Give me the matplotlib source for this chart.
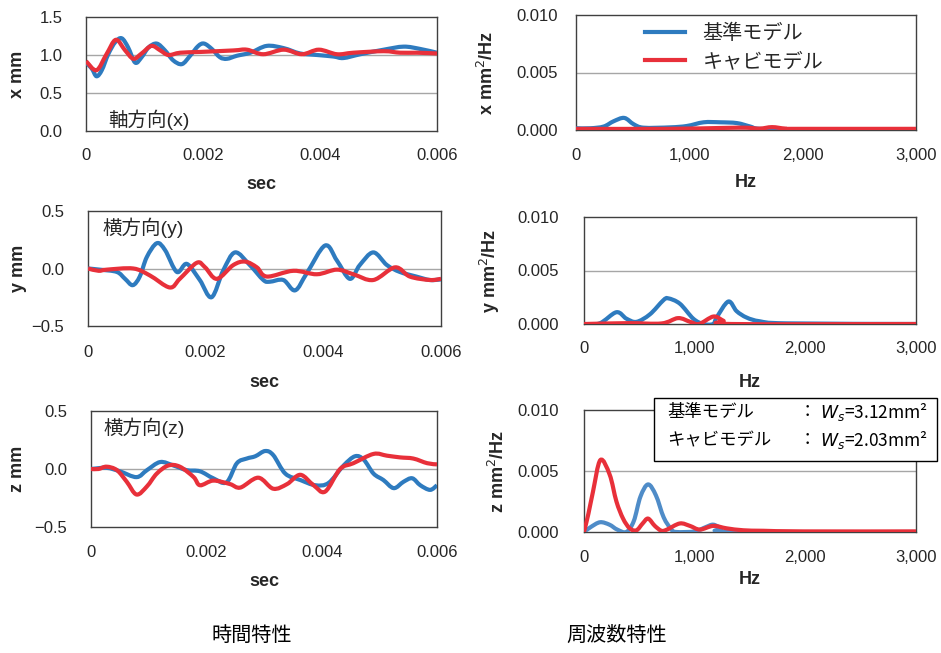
import matplotlib
matplotlib.use("Agg")
import matplotlib.pyplot as plt
from matplotlib.patches import Rectangle, PathPatch
from matplotlib.path import Path
from matplotlib.lines import Line2D

plt.rcParams['font.family'] = ['Liberation Sans', 'Noto Sans CJK JP', 'DejaVu Sans']
plt.rcParams['axes.unicode_minus'] = True

# ---------------- data ----------------
series_labels = ['基準モデル', 'キャビモデル']
dir_labels = ['軸方向(x)', '横方向(y)', '横方向(z)']
time_ylabels = ['x mm', 'y mm', 'z mm']
psd_ylabels = ['x mm$^2$/Hz', 'y mm$^2$/Hz', 'z mm$^2$/Hz']
time_xlabel = 'sec'
psd_xlabel = 'Hz'
time_xticks = [0, 0.002, 0.004, 0.006]
time_xticklabels = ['0', '0.002', '0.004', '0.006']
x_yticks = [0.0, 0.5, 1.0, 1.5]
x_yticklabels = ['0.0', '0.5', '1.0', '1.5']
yz_yticks = [-0.5, 0.0, 0.5]
yz_yticklabels = ['\u22120.5', '0.0', '0.5']
psd_xticks = [0, 1000, 2000, 3000]
psd_xticklabels = ['0', '1,000', '2,000', '3,000']
psd_yticks = [0.0, 0.005, 0.010]
psd_yticklabels = ['0.000', '0.005', '0.010']
bottom_labels = ['時間特性', '周波数特性']
note_names = ['基準モデル', 'キャビモデル']
note_values = ['$W_s$=3.12mm\u00b2', '$W_s$=2.03mm\u00b2']

# time response x (axial)
tx_base = [0.0, 0.0001, 0.00018, 0.00027, 0.00038, 0.0005, 0.00061, 0.00072, 0.00084,
           0.00095, 0.00107, 0.00121, 0.00135, 0.00149, 0.00164, 0.00178, 0.00192,
           0.00202, 0.00215, 0.00229, 0.00241, 0.00258, 0.00281, 0.00309, 0.00338,
           0.00366, 0.00395, 0.00423, 0.0044, 0.00469, 0.00509, 0.00543, 0.00571, 0.006]
x_base = [0.90, 0.82, 0.72, 0.80, 1.01, 1.17, 1.22, 1.10, 0.90, 0.97, 1.10, 1.15, 1.06,
          0.93, 0.88, 0.99, 1.12, 1.15, 1.08, 0.97, 0.95, 0.99, 1.03, 1.12, 1.09, 1.02,
          1.00, 0.98, 0.96, 1.01, 1.07, 1.11, 1.08, 1.03]
tx_cav = [0.0, 0.00018, 0.00035, 0.00051, 0.00067, 0.00081, 0.00095, 0.00112, 0.00127,
          0.00141, 0.00161, 0.00195, 0.00252, 0.00275, 0.00303, 0.00338, 0.00369,
          0.00398, 0.00429, 0.00457, 0.00509, 0.00537, 0.00566, 0.006]
x_cav = [0.92, 0.80, 1.01, 1.20, 1.06, 0.95, 1.02, 1.12, 1.06, 1.00, 1.03, 1.04, 1.06,
         1.07, 1.01, 1.07, 1.01, 1.07, 1.01, 1.03, 1.05, 1.03, 1.03, 1.02]

# time response y
ty_base = [0.0, 0.0002, 0.00049, 0.00063, 0.00076, 0.00088, 0.001, 0.00117, 0.00131,
           0.00151, 0.00168, 0.0019, 0.0021, 0.0023, 0.0025, 0.00275, 0.00298, 0.00309,
           0.00332, 0.00352, 0.00372, 0.00403, 0.00423, 0.00445, 0.00462, 0.00485,
           0.00508, 0.0053, 0.00558, 0.00581, 0.006]
y_base = [0.0, -0.01, -0.03, -0.09, -0.145, -0.07, 0.10, 0.22, 0.16, -0.03, 0.04, -0.10,
          -0.25, -0.015, 0.14, 0.03, -0.10, -0.115, -0.10, -0.19, -0.04, 0.20, 0.07, -0.09,
          0.03, 0.14, 0.03, -0.03, -0.07, -0.10, -0.095]
ty_cav = [0.0, 0.00018, 0.00032, 0.00077, 0.00105, 0.00139, 0.00156, 0.00185, 0.00199,
          0.00219, 0.00247, 0.00267, 0.00287, 0.00304, 0.00349, 0.00389, 0.00423,
          0.00451, 0.00485, 0.00522, 0.00547, 0.00581, 0.006]
y_cav = [0.0, -0.02, -0.01, 0.0, -0.06, -0.165, -0.09, 0.05, 0.01, -0.09, 0.03, 0.06,
         0.01, -0.07, -0.02, -0.05, -0.01, -0.05, -0.10, 0.01, -0.07, -0.10, -0.09]

# time response z
tz_base = [0.0, 0.00027, 0.0005, 0.00079, 0.00097, 0.0012, 0.00143, 0.00166, 0.00189,
           0.00212, 0.00235, 0.00253, 0.0027, 0.00285, 0.00302, 0.00316, 0.00337,
           0.00363, 0.00389, 0.00412, 0.00438, 0.00458, 0.00473, 0.0049, 0.00507,
           0.00525, 0.00542, 0.00557, 0.00571, 0.00588, 0.006]
z_base = [0.0, 0.01, -0.02, -0.07, -0.01, 0.06, 0.03, -0.01, -0.02, -0.08, -0.115, 0.05,
          0.09, 0.11, 0.155, 0.12, -0.04, -0.095, -0.14, -0.12, 0.03, 0.11, 0.08, -0.04,
          -0.095, -0.165, -0.11, -0.08, -0.14, -0.18, -0.14]
tz_cav = [0.0, 0.00013, 0.00027, 0.00045, 0.00062, 0.00079, 0.00097, 0.00114, 0.00134,
          0.00154, 0.00178, 0.00189, 0.00212, 0.00241, 0.00259, 0.0029, 0.00316,
          0.0034, 0.00363, 0.00386, 0.00406, 0.00432, 0.00455, 0.0049, 0.00513,
          0.00536, 0.00559, 0.00583, 0.006]
z_cav = [0.0, 0.0, 0.02, -0.01, -0.11, -0.22, -0.15, -0.04, 0.03, 0.02, -0.07, -0.14,
         -0.10, -0.13, -0.16, -0.075, -0.17, -0.13, -0.05, -0.14, -0.195, 0.0, 0.05,
         0.13, 0.115, 0.10, 0.09, 0.05, 0.04]

# PSD x
fx_base = [0, 126, 244, 332, 426, 509, 597, 832, 979, 1126, 1273, 1420, 1538, 1626, 2009, 3000]
px_base = [0.00015, 0.00015, 0.0003, 0.00076, 0.00105, 0.0005, 0.0002, 0.00023, 0.00035,
           0.00067, 0.00067, 0.0006, 0.0003, 0.0001, 0.00006, 0.00006]
fx_cav = [0, 800, 1300, 1500, 1620, 1730, 1850, 2000, 3000]
px_cav = [0.0001, 0.0001, 0.00018, 0.0002, 0.00012, 0.00025, 0.00012, 0.0001, 0.0001]

# PSD y
fy_base = [0, 142, 293, 383, 474, 595, 715, 760, 866, 987, 1077, 1168, 1198, 1304, 1379,
           1470, 1590, 1832, 3000]
py_base = [0.0, 0.00006, 0.0011, 0.0005, 0.0002, 0.0009, 0.0022, 0.0024, 0.0019, 0.0005,
           0.0, 0.0, 0.0006, 0.0021, 0.0012, 0.0006, 0.00025, 0.00006, 0.0]
fy_cav = [0, 400, 700, 850, 960, 1040, 1170, 1260, 1330, 3000]
py_cav = [0.0, 0.00008, 0.00005, 0.00055, 0.0002, 0.0, 0.0007, 0.0003, 0.0, 0.0]

# PSD z
fz_base = [0, 60, 145, 230, 300, 383, 450, 510, 579, 650, 720, 790, 836, 1000, 1100,
           1168, 1240, 1330, 3000]
pz_base = [0.0, 0.0004, 0.0008, 0.0006, 0.0002, 0.0, 0.0009, 0.0029, 0.0039, 0.003,
           0.0012, 0.0002, 0.0, 0.00005, 0.0004, 0.0006, 0.0003, 0.0, 0.0]
fz_cav = [0, 40, 81, 148, 232, 293, 353, 413, 474, 530, 579, 640, 700, 750, 866, 957,
          1047, 1168, 1289, 1440, 1621, 1983, 3000]
pz_cav = [0.0, 0.0015, 0.0033, 0.0059, 0.0047, 0.0025, 0.0011, 0.0003, 0.00014, 0.0007,
          0.0011, 0.0005, 0.0001, 0.0002, 0.0007, 0.0005, 0.0002, 0.0005, 0.0003, 0.00014,
          0.0001, 0.00005, 0.00005]

# ---------------- style ----------------
BLUE = '#2e7bbf'
BLUE_L = '#4f8cc8'
RED = '#e8303a'
GRID = '#a6a6a6'
SPINE = '#404040'
TXT = '#262626'
W, H = 941, 653
LW = 3.0

fig = plt.figure(figsize=(W / 100, H / 100), dpi=100)


def px_axes(l, r, t, b):
    return fig.add_axes([l / W, 1 - b / H, (r - l) / W, (b - t) / H])


def style(ax, xticks, xtl, yticks, ytl, xlim, ylim, grid_vals, ypad, xpad):
    ax.set_xlim(*xlim)
    ax.set_ylim(*ylim)
    ax.set_xticks(xticks)
    ax.set_xticklabels(xtl)
    ax.set_yticks(yticks)
    ax.set_yticklabels(ytl)
    ax.tick_params(axis='y', length=0, pad=ypad, labelsize=12, labelcolor=TXT)
    ax.tick_params(axis='x', length=0, pad=xpad, labelsize=12, labelcolor=TXT)
    for s in ax.spines.values():
        s.set_color(SPINE)
        s.set_linewidth(1.0)
    for g in grid_vals:
        ax.axhline(g, color=GRID, lw=1.0, zorder=1)


def labels(ax, xl, yl, xly, ylx):
    ax.set_xlabel(xl, fontsize=13, fontweight='bold', color=TXT)
    ax.set_ylabel(yl, fontsize=13, fontweight='bold', color=TXT)
    ax.xaxis.set_label_coords(0.5, xly)
    ax.yaxis.set_label_coords(ylx, 0.5)
    ax.xaxis.label.set_va('center')
    ax.yaxis.label.set_va('center')


def smooth_line(ax, xs, ys, color, z):
    """Excel-style smoothed line: cubic Bezier segments through the data points."""
    n = len(xs)
    verts = [(xs[0], ys[0])]
    codes = [Path.MOVETO]
    for i in range(n - 1):
        a = i - 1 if i > 0 else i
        d = i + 2 if i + 2 < n else i + 1
        c1 = (xs[i] + (xs[i + 1] - xs[a]) / 6.0, ys[i] + (ys[i + 1] - ys[a]) / 6.0)
        c2 = (xs[i + 1] - (xs[d] - xs[i]) / 6.0, ys[i + 1] - (ys[d] - ys[i]) / 6.0)
        verts += [c1, c2, (xs[i + 1], ys[i + 1])]
        codes += [Path.CURVE4] * 3
    patch = PathPatch(Path(verts, codes), fill=False, edgecolor=color, lw=LW,
                      joinstyle='round', capstyle='butt', zorder=z,
                      transform=ax.transData)
    ax.add_patch(patch)
    return patch


# time plots
ax1 = px_axes(86, 437, 17, 131)
ax2 = px_axes(88, 441, 211, 326)
ax3 = px_axes(91, 437, 411, 527)
# PSD plots
ax4 = px_axes(576, 916, 15, 130)
ax5 = px_axes(584, 916, 217, 324)
ax6 = px_axes(584, 916, 410, 532)

style(ax1, time_xticks, time_xticklabels, x_yticks, x_yticklabels, (0, 0.006), (0, 1.5),
      [0.5, 1.0], 17, 12)
style(ax2, time_xticks, time_xticklabels, yz_yticks, yz_yticklabels, (0, 0.006), (-0.5, 0.5),
      [0.0], 17, 14)
style(ax3, time_xticks, time_xticklabels, yz_yticks, yz_yticklabels, (0, 0.006), (-0.5, 0.5),
      [0.0], 17, 13)
for ax, yp, xp in [(ax4, 13, 13), (ax5, 18, 12), (ax6, 18, 13)]:
    style(ax, psd_xticks, psd_xticklabels, psd_yticks, psd_yticklabels, (0, 3000),
          (0, 0.010), [0.005], yp, xp)

smooth_line(ax1, tx_base, x_base, BLUE, 3)
smooth_line(ax1, tx_cav, x_cav, RED, 4)
smooth_line(ax2, ty_base, y_base, BLUE, 3)
smooth_line(ax2, ty_cav, y_cav, RED, 4)
smooth_line(ax3, tz_base, z_base, BLUE, 3)
smooth_line(ax3, tz_cav, z_cav, RED, 4)
smooth_line(ax4, fx_base, px_base, BLUE, 3)
smooth_line(ax4, fx_cav, px_cav, RED, 4)
smooth_line(ax5, fy_base, py_base, BLUE, 3)
smooth_line(ax5, fy_cav, py_cav, RED, 4)
smooth_line(ax6, fz_base, pz_base, BLUE_L, 3)
smooth_line(ax6, fz_cav, pz_cav, RED, 4)

labels(ax1, time_xlabel, time_ylabels[0], -0.47, -0.194)
labels(ax2, time_xlabel, time_ylabels[1], -0.487, -0.198)
labels(ax3, time_xlabel, time_ylabels[2], -0.474, -0.211)
labels(ax4, psd_xlabel, psd_ylabels[0], -0.46, -0.262)
labels(ax5, psd_xlabel, psd_ylabels[1], -0.55, -0.283)
labels(ax6, psd_xlabel, psd_ylabels[2], -0.39, -0.259)

ax1.text(0.063, 0.096, dir_labels[0], transform=ax1.transAxes, fontsize=14,
         va='center', ha='left', color=TXT, zorder=5)
ax2.text(0.04, 0.852, dir_labels[1], transform=ax2.transAxes, fontsize=14,
         va='center', ha='left', color=TXT, zorder=5)
ax3.text(0.035, 0.853, dir_labels[2], transform=ax3.transAxes, fontsize=14,
         va='center', ha='left', color=TXT, zorder=5)

handles = [Line2D([], [], color=BLUE, lw=LW), Line2D([], [], color=RED, lw=LW)]
leg = fig.legend(handles, series_labels, loc='upper left',
                 bbox_to_anchor=(645 / W, 1 - 24 / H), frameon=False,
                 fontsize=14.5, handlelength=2.0, handletextpad=0.85,
                 labelspacing=0.45, borderpad=0, borderaxespad=0)
for t in leg.get_texts():
    t.set_color(TXT)

# annotation box
box = Rectangle((654 / W, 1 - 461 / H), (937 - 654) / W, (461 - 398) / H,
                transform=fig.transFigure, facecolor='white', edgecolor='black',
                lw=1.0, zorder=10)
fig.add_artist(box)
for k, ypix in enumerate([412, 440]):
    fig.text(667 / W, 1 - ypix / H, note_names[k], fontsize=12.5, va='center',
             ha='left', color='black', zorder=11, family='Noto Sans CJK JP')
    fig.text(807 / W, 1 - ypix / H, '：', fontsize=12.5, va='center',
             ha='center', color='black', zorder=11, family='Noto Sans CJK JP')
    fig.text(820 / W, 1 - ypix / H, note_values[k], fontsize=12.5, va='center',
             ha='left', color='black', zorder=11, family='Noto Sans CJK JP')

fig.text(252 / W, 1 - 635 / H, bottom_labels[0], fontsize=14.5, ha='center',
         va='center', color='black')
fig.text(617 / W, 1 - 635 / H, bottom_labels[1], fontsize=14.5, ha='center',
         va='center', color='black')

fig.savefig('out.png', dpi=100, facecolor='white')
